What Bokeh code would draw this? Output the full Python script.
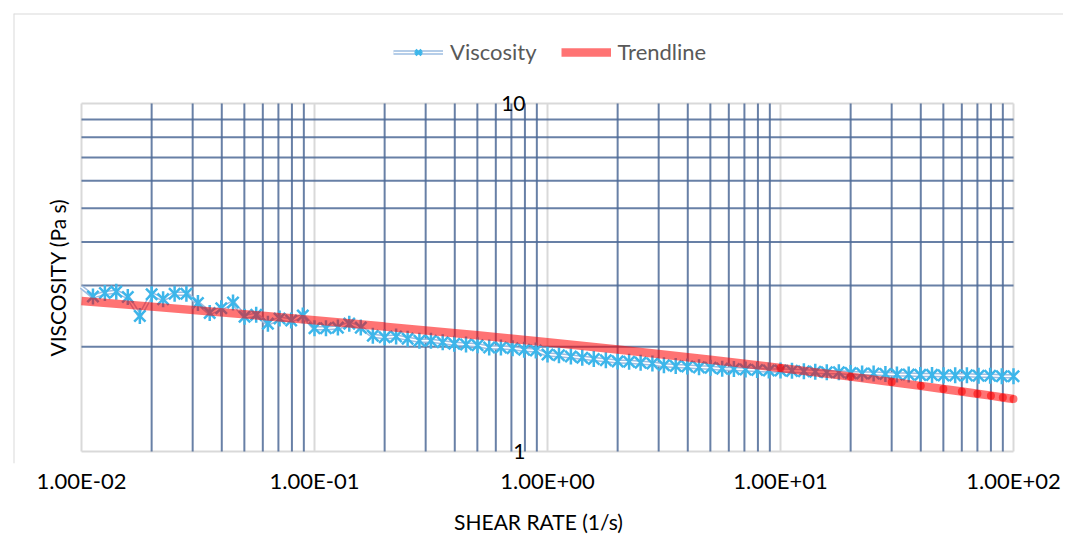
import math
from bokeh.plotting import figure
from bokeh.models import (Range1d, FixedTicker, CustomJSTickFormatter, Legend,
                          LegendItem, Label)
from bokeh.embed import file_html
from bokeh.resources import INLINE

# ---------------- data ----------------
shear_rate = [
    0.00998,
    0.0112, 0.0126, 0.0141, 0.0158, 0.0178, 0.0200, 0.0224, 0.0251, 0.0282,
    0.0316, 0.0355, 0.0398, 0.0447, 0.0501, 0.0562, 0.0631, 0.0708, 0.0794, 0.0891,
    0.100, 0.112, 0.126, 0.141, 0.158, 0.178, 0.200, 0.224, 0.251, 0.282,
    0.316, 0.355, 0.398, 0.447, 0.501, 0.562, 0.631, 0.708, 0.794, 0.891,
    1.00, 1.12, 1.26, 1.41, 1.58, 1.78, 2.00, 2.24, 2.51, 2.82,
    3.16, 3.55, 3.98, 4.47, 5.01, 5.62, 6.31, 7.08, 7.94, 8.91,
    10.0, 11.2, 12.6, 14.1, 15.8, 17.8, 20.0, 22.4, 25.1, 28.2,
    31.6, 35.5, 39.8, 44.7, 50.1, 56.2, 63.1, 70.8, 79.4, 89.1,
    100.0,
]
viscosity = [
    2.97,
    2.79, 2.855, 2.88, 2.78, 2.45, 2.83, 2.74, 2.84, 2.84,
    2.67, 2.50, 2.58, 2.68, 2.44, 2.47, 2.33, 2.41, 2.38, 2.46,
    2.26, 2.26, 2.27, 2.33, 2.27, 2.15, 2.13, 2.14, 2.11, 2.08,
    2.08, 2.06, 2.04, 2.03, 2.02, 1.99, 1.99, 1.98, 1.96, 1.95,
    1.90, 1.89, 1.875, 1.86, 1.845, 1.83, 1.815, 1.81, 1.80, 1.79,
    1.77, 1.76, 1.755, 1.745, 1.74, 1.73, 1.725, 1.72, 1.715, 1.71,
    1.71, 1.705, 1.70, 1.695, 1.69, 1.69, 1.68, 1.675, 1.675, 1.67,
    1.665, 1.665, 1.66, 1.66, 1.655, 1.655, 1.655, 1.65, 1.65, 1.645,
    1.645,
]
trend_x = [0.01, 0.02, 0.05, 0.1, 0.2, 0.5, 1, 2, 5,
           10, 20, 30, 40, 50, 60, 70, 80, 90, 100]
trend_y = [2.705, 2.608, 2.479, 2.382, 2.285, 2.157, 2.060, 1.963, 1.835,
           1.738, 1.641, 1.584, 1.544, 1.512, 1.487, 1.465, 1.447, 1.430, 1.415]
series_names = ["Viscosity", "Trendline"]
x_ticks = [0.01, 0.1, 1, 10, 100]
y_ticks = [10, 1]
y_tick_labels = ["10", "1"]
x_title = "SHEAR RATE (1/s)"
y_title = "VISCOSITY (Pa s)"
y_axis_crosses_at = 1

FONT = "Lato"
X_MIN, X_MAX, Y_MIN, Y_MAX = 0.01, 100, 1, 10

# The drawing frame is larger than the gridded box (0.01..100 x 1..10) so that
# the legend, value labels, y title and chart-area border are not clipped.
PX_X, PX_Y = 233, 348            # pixels per decade
PAD_L, PAD_R, PAD_T, PAD_B = 68, 50, 90, 12
x_lo = X_MIN * 10 ** (-PAD_L / PX_X)
x_hi = X_MAX * 10 ** (PAD_R / PX_X)
y_lo = Y_MIN * 10 ** (-PAD_B / PX_Y)
y_hi = Y_MAX * 10 ** (PAD_T / PX_Y)

p = figure(width=1063, height=551, x_axis_type="log", y_axis_type="log",
           x_range=Range1d(x_lo, x_hi), y_range=Range1d(y_lo, y_hi),
           output_backend="svg", toolbar_location=None,
           min_border_left=13, min_border_right=0,
           min_border_top=13, min_border_bottom=88)
p.background_fill_color = "white"
p.border_fill_color = "white"
p.outline_line_color = None
p.xgrid.visible = False
p.ygrid.visible = False

GRID_BLUE = "#4D6A96"
GRID_GREY = "#D9D9D9"

# chart-area border (top and left edges)
p.segment(x0=[x_lo, x_lo], y0=[y_hi, y_lo], x1=[x_hi, x_lo], y1=[y_hi, y_hi],
          line_color=GRID_GREY, line_width=2)

# grid, bounded to the 0.01..100 x 1..10 box
minor_x = [m * d for d in [0.01, 0.1, 1, 10] for m in range(2, 10)]
minor_y = [float(m) for m in range(2, 10)]
major_y = [Y_MIN, Y_MAX]
p.segment(x0=X_MIN, y0=major_y, x1=X_MAX, y1=major_y,
          line_color=GRID_GREY, line_width=2)
p.segment(x0=x_ticks, y0=Y_MIN, x1=x_ticks, y1=Y_MAX,
          line_color=GRID_GREY, line_width=2)
p.segment(x0=X_MIN, y0=minor_y, x1=X_MAX, y1=minor_y,
          line_color=GRID_BLUE, line_width=2, line_alpha=0.85)
p.segment(x0=minor_x, y0=Y_MIN, x1=minor_x, y1=Y_MAX,
          line_color=GRID_BLUE, line_width=2, line_alpha=0.85)

# x axis
xa = p.xaxis[0]
xa.ticker = FixedTicker(ticks=x_ticks)
xa.formatter = CustomJSTickFormatter(code="""
const s = tick.toExponential(2).toUpperCase();
const parts = s.split("E");
const sign = parts[1][0];
let d = parts[1].slice(1);
if (d.length < 2) { d = "0" + d; }
return parts[0] + "E" + sign + d;
""")
xa.axis_line_color = None
xa.major_tick_line_color = None
xa.minor_tick_line_color = None
xa.major_tick_out = 0
xa.minor_tick_out = 0
xa.major_label_standoff = 3
xa.major_label_text_font = FONT
xa.major_label_text_font_size = "22px"
xa.major_label_text_color = "#000000"
xa.axis_label = x_title
xa.axis_label_text_font = FONT
xa.axis_label_text_font_size = "21px"
xa.axis_label_text_font_style = "normal"
xa.axis_label_text_color = "#000000"
xa.axis_label_standoff = 12

p.yaxis.visible = False

# y title, centred on the gridded box, left of it
p.add_layout(Label(x=X_MIN, y=math.sqrt(Y_MIN * Y_MAX), text=y_title,
                   x_offset=-24, angle=math.pi / 2, text_align="center",
                   text_baseline="middle", text_font=FONT,
                   text_font_size="21px", text_color="#000000"))

# value labels at the vertical axis (crosses at x = 1)
for v, t in zip(y_ticks, y_tick_labels):
    p.add_layout(Label(x=y_axis_crosses_at, y=v, text=t, x_offset=-22,
                       text_align="right", text_baseline="middle",
                       text_font=FONT, text_font_size="21px",
                       text_color="#000000"))

# viscosity series: double line + star markers
BLUE = "#3DB6EA"
r_outer = p.line(shear_rate, viscosity, line_color="#9DBCE0", line_width=4.5)
r_inner = p.line(shear_rate, viscosity, line_color="white", line_width=1.5)
mx = [x for x in shear_rate if X_MIN <= x <= X_MAX]
my = [y for x, y in zip(shear_rate, viscosity) if X_MIN <= x <= X_MAX]
r_x = p.scatter(mx, my, marker="x", size=16, line_color=BLUE, line_width=2.5)
r_v = p.scatter(mx, my, marker="dash", angle=math.pi / 2, size=16,
                line_color=BLUE, line_width=2.5)

# trendline series
r_trend = p.line(trend_x, trend_y, line_color="#FF0000", line_alpha=0.55,
                 line_width=8.5)
dx = [x for x in trend_x if x >= 10]
dy = [y for x, y in zip(trend_x, trend_y) if x >= 10]
p.scatter(dx, dy, marker="circle", size=8, fill_color="#FF0000",
          fill_alpha=0.55, line_color=None)

legend = Legend(items=[
    LegendItem(label=series_names[0], renderers=[r_outer, r_inner, r_x, r_v]),
    LegendItem(label=series_names[1], renderers=[r_trend]),
], orientation="horizontal", location=(380, 398))
legend.label_text_font = FONT
legend.label_text_font_size = "22px"
legend.label_text_color = "#595959"
legend.border_line_color = None
legend.background_fill_alpha = 0
legend.padding = 0
legend.margin = 0
legend.glyph_width = 50
legend.glyph_height = 20
legend.label_standoff = 7
legend.spacing = 24
p.add_layout(legend)

open("out.html", "w").write(file_html(p, INLINE))
